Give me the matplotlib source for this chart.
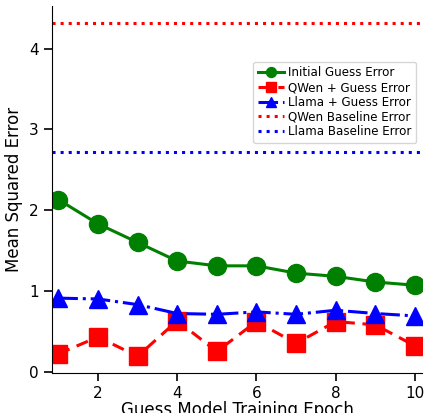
import numpy as np
import matplotlib
matplotlib.use("Agg")
import matplotlib.pyplot as plt

epochs = [1, 2, 3, 4, 5, 6, 7, 8, 9, 10]
initial_err = [2.13, 1.83, 1.60, 1.37, 1.31, 1.31, 1.22, 1.18, 1.11, 1.07]
qwen_err = [0.22, 0.43, 0.19, 0.63, 0.25, 0.62, 0.35, 0.62, 0.58, 0.32]
llama_err = [0.91, 0.90, 0.83, 0.72, 0.71, 0.74, 0.71, 0.76, 0.72, 0.69]
qwen_baseline = 4.32
llama_baseline = 2.72

fig = plt.figure(figsize=(4.32, 4.13), dpi=100)
ax = fig.add_axes([52 / 432, 40 / 413, 370 / 432, 367 / 413])

ax.plot(epochs, initial_err, color='green', marker='o', linestyle='-', linewidth=2.2,
        markersize=13, label='Initial Guess Error')
ax.plot(epochs, qwen_err, color='red', marker='s', linestyle='--', linewidth=2.2,
        markersize=13, dashes=(4, 2.5), label='QWen + Guess Error')
ax.plot(epochs, llama_err, color='blue', marker='^', linestyle='-.', linewidth=2.2,
        markersize=13, label='Llama + Guess Error')
ax.axhline(qwen_baseline, color='red', linestyle=':', linewidth=2.2, label='QWen Baseline Error')
ax.axhline(llama_baseline, color='blue', linestyle=':', linewidth=2.2, label='Llama Baseline Error')

ax.set_xlim(0.84, 10.18)
ax.set_xticks([2, 4, 6, 8, 10])
ax.set_yticks([0, 1, 2, 3, 4])
ax.spines['top'].set_visible(False)
ax.spines['right'].set_visible(False)
ax.tick_params(labelsize=11, length=6, width=1.2)
ax.set_xlabel('Guess Model Training Epoch', fontsize=12, labelpad=0)
ax.set_ylabel('Mean Squared Error', fontsize=12)

ax.legend(loc='upper right', bbox_to_anchor=(1.0, 0.865), fontsize=8.6, handlelength=2.2,
          handletextpad=0.3, labelspacing=0.15, borderpad=0.4, markerscale=0.55)

fig.savefig('out.png', dpi=100)
